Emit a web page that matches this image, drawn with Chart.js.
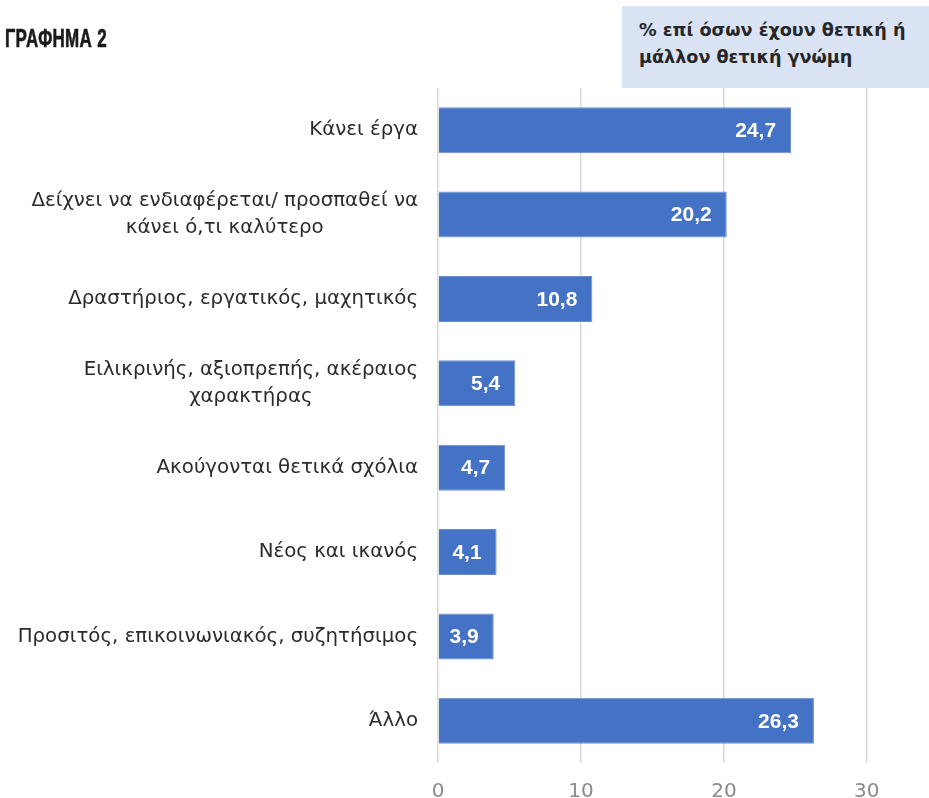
<!DOCTYPE html>
<html>
<head>
<meta charset="utf-8">
<script src="https://cdn.jsdelivr.net/npm/chart.js@4"></script>
<style>
  body { margin: 0; background: #fff; }
  #wrap { position: relative; width: 929px; height: 798px; overflow: hidden; }
  #chart { position: absolute; left: 0; top: 0; }
  .title {
    position: absolute; left: 5px; top: 24px;
    font: bold 25px "Liberation Sans Narrow", sans-serif; color: #1a1a1a;
    transform: scaleX(0.68); transform-origin: left top; letter-spacing: 0.5px;
    -webkit-text-stroke: 0.6px #1a1a1a;
  }
  .note {
    position: absolute; left: 622px; top: 6px; width: 307px; height: 82px;
    background: #dae3f3; box-sizing: border-box; padding: 11px 0 0 17px;
    font: bold 17.6px "DejaVu Sans", sans-serif; line-height: 27px; color: #262626;
  }
</style>
</head>
<body>
<div id="wrap">
  <canvas id="chart" width="929" height="798"></canvas>
  <div class="title">ΓΡΑΦΗΜΑ 2</div>
  <div class="note">% επί όσων έχουν θετική ή<br>μάλλον θετική γνώμη</div>
</div>
<script>
const categories = [
  ['Κάνει έργα'],
  ['Δείχνει να ενδιαφέρεται/ προσπαθεί να', 'κάνει ό,τι καλύτερο'],
  ['Δραστήριος, εργατικός, μαχητικός'],
  ['Ειλικρινής, αξιοπρεπής, ακέραιος', 'χαρακτήρας'],
  ['Ακούγονται θετικά σχόλια'],
  ['Νέος και ικανός'],
  ['Προσιτός, επικοινωνιακός, συζητήσιμος'],
  ['Άλλο']
]
const values = [24.7, 20.2, 10.8, 5.4, 4.7, 4.1, 3.9, 26.3]
const xTicks = [0, 10, 20, 30]

const fmt = v => v.toFixed(1).replace('.', ',')

// category labels: multi-line ones are centred on each other, block right-aligned
const categoryLabels = {
  id: 'categoryLabels',
  afterDraw(chart) {
    const { ctx, scales: { y } } = chart
    const right = y.right - 20
    const lh = 27
    ctx.save()
    ctx.font = '19.8px "DejaVu Sans", sans-serif'
    ctx.fillStyle = '#2b2b2b'
    ctx.textBaseline = 'middle'
    ctx.textAlign = 'center'
    categories.forEach((lines, i) => {
      const cy = y.getPixelForValue(i)
      const maxW = Math.max(...lines.map(l => ctx.measureText(l).width))
      const cx = right - maxW / 2
      lines.forEach((l, j) => {
        ctx.fillText(l, cx, cy + (j - (lines.length - 1) / 2) * lh)
      })
    })
    ctx.restore()
  }
}

// value labels inside the end of each bar
const valueLabels = {
  id: 'valueLabels',
  afterDatasetsDraw(chart) {
    const { ctx } = chart
    const meta = chart.getDatasetMeta(0)
    ctx.save()
    ctx.font = 'bold 21px "Liberation Sans", sans-serif'
    ctx.fillStyle = '#ffffff'
    ctx.textAlign = 'right'
    ctx.textBaseline = 'middle'
    meta.data.forEach((bar, i) => {
      ctx.fillText(fmt(values[i]), bar.x - 15, bar.y + 1)
    })
    ctx.restore()
  }
}

new Chart(document.getElementById('chart'), {
  type: 'bar',
  data: {
    labels: categories.map(c => c.join(' ')),
    datasets: [{
      data: values,
      backgroundColor: '#4472c4',
      borderColor: '#6a8fd0',
      borderWidth: 1,
      categoryPercentage: 1,
      barPercentage: 0.545
    }]
  },
  options: {
    indexAxis: 'y',
    responsive: false,
    animation: false,
    layout: { padding: { top: 88, right: 5, bottom: 0, left: 0 } },
    plugins: { legend: { display: false }, tooltip: { enabled: false } },
    scales: {
      x: {
        min: 0,
        max: 34,
        afterBuildTicks: s => { s.ticks = xTicks.map(v => ({ value: v })) },
        afterFit: s => { s.height = 35 },
        grid: { color: '#d9d9d9', lineWidth: 1.5, drawTicks: false },
        border: { display: false },
        ticks: {
          padding: 17,
          color: '#8a8a8a',
          font: { family: 'DejaVu Sans', size: 20 }
        }
      },
      y: {
        afterFit: s => { s.width = 438 },
        grid: { display: false },
        border: { display: false },
        ticks: { display: false }
      }
    }
  },
  plugins: [categoryLabels, valueLabels]
})
</script>
</body>
</html>
